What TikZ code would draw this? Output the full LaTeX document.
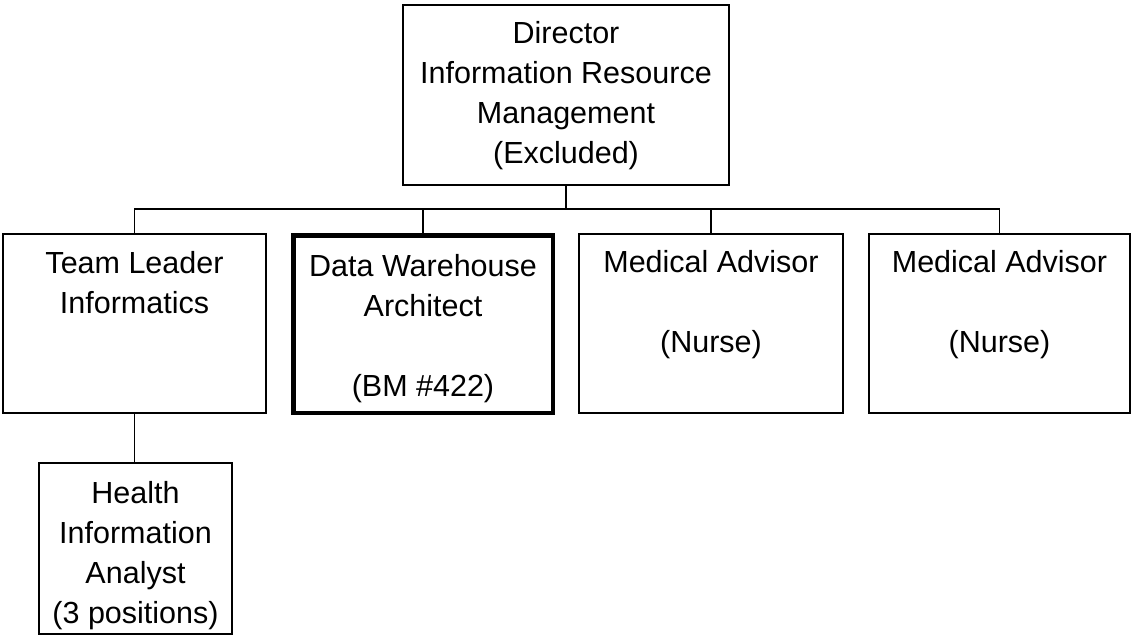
\documentclass[tikz,border=0pt]{standalone}
\usepackage{fontspec}
\setmainfont{Liberation Sans}
\begin{document}
\begin{tikzpicture}[x=1pt,y=-1pt,
  box/.style={draw=black,line width=1.1pt,rectangle,inner sep=0pt},
  keybox/.style={box,line width=4.5pt},
  txt/.style={anchor=north,inner sep=0pt,align=center,font=\fontsize{30.5}{40}\selectfont},
  conn/.style={draw=black,line width=1.1pt}]
\useasboundingbox (0,0) rectangle (1131,635);
% boxes
\node[box,minimum width=326pt,minimum height=180pt] (dir) at (566,95) {};
\node[box,minimum width=263pt,minimum height=179pt] (tl) at (134.5,323.5) {};
\node[keybox,minimum width=259.5pt,minimum height=177.5pt] (dw) at (423,324) {};
\node[box,minimum width=264pt,minimum height=179pt] (m1) at (711,323.5) {};
\node[box,minimum width=261pt,minimum height=179pt] (m2) at (999.5,323.5) {};
\node[box,minimum width=193pt,minimum height=171pt] (ha) at (135.5,548.5) {};
% texts
\node[txt] (dirT) at (566,15) {\strut Director\\Information Resource\\Management\\(Excluded)};
\node[txt] (tlT) at (134.5,245) {\strut Team Leader\\Informatics};
\node[txt] (dwT) at (423,248) {\strut Data Warehouse\\Architect\\[40pt](BM \#422)};
\node[txt] (m1T) at (711,244) {\strut Medical Advisor\\[40pt](Nurse)};
\node[txt] (m2T) at (999.5,244) {\strut Medical Advisor\\[40pt](Nurse)};
\node[txt] (haT) at (135.5,475) {\strut Health\\Information\\Analyst\\(3 positions)};
% connectors
\coordinate (bus) at (0,209);
\draw[conn] (dir.south) -- (dir.south |- bus);
\draw[conn] (tl.north) -- (tl.north |- bus) -- (m2.north |- bus) -- (m2.north);
\draw[conn] (dw.north) -- (dw.north |- bus);
\draw[conn] (m1.north) -- (m1.north |- bus);
\draw[conn] (tl.south) -- (tl.south |- ha.north);
\end{tikzpicture}
\end{document}
